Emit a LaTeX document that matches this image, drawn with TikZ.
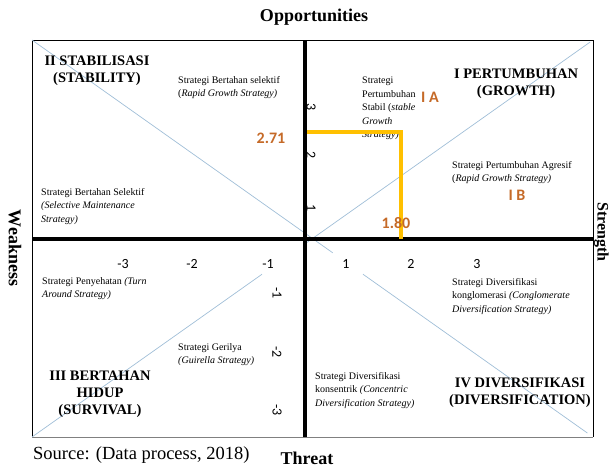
\documentclass[tikz,border=0pt]{standalone}
\usepackage{fontspec}
\setmainfont{Liberation Serif}
\newfontfamily\calibri{Carlito}
\usepackage{tikz}
\usetikzlibrary{calc}
\definecolor{diagblue}{RGB}{160,190,215}
\definecolor{valorange}{RGB}{197,106,40}
\definecolor{markyellow}{RGB}{255,192,0}
\tikzset{
  axis/.style={line width=3.5pt},
  diag/.style={diagblue, line width=0.7pt},
  quadtitle/.style={font=\fontsize{14.5}{17}\selectfont\bfseries, align=center, inner sep=0pt},
  strat/.style={font=\fontsize{10}{13.5}\selectfont, align=left, anchor=north west, inner sep=0pt},
  tick/.style={font=\calibri\fontsize{14}{16}\selectfont, inner sep=0pt},
  vtick/.style={tick, rotate=-90},
  val/.style={font=\calibri\bfseries\fontsize{16}{18}\selectfont, text=valorange, inner sep=0pt},
  sidelabel/.style={font=\fontsize{18}{20}\selectfont\bfseries, inner sep=0pt},
}

\begin{document}
\begin{tikzpicture}[x=1pt, y=-1pt]
    \useasboundingbox (0,0) rectangle (609,469);
    \coordinate (tl) at (32,40);
    \coordinate (tr) at (593,40);
    \coordinate (bl) at (32,437);
    \coordinate (br) at (593,437);
    \coordinate (o) at (305,239);

    \draw [line width=0.8pt] (bl) -- (tl) -- (tr) -- (br);
    \draw [gray, line width=1pt] (bl) -- (br);

    \draw [diag] (tl) -- ($(tl)!0.536!(br)$);
    \draw [diag] ($(tl)!0.59!(br)$) -- ($(tl)!0.99!(br)$);
    \draw [diag] (bl) -- ($(bl)!0.41!(tr)$);
    \draw [diag] ($(bl)!0.487!(tr)$) -- ($(bl)!0.995!(tr)$);

    \draw [axis] (tl |- o) -- (tr |- o);
    \draw [axis] (o |- tl) -- (o |- bl);

    \node [sidelabel] (opp) at (314,17) {Opportunities};
    \node [sidelabel] (thr) at (307,458) {Threat};
    \node [sidelabel, rotate=-90] (weak) at (15,248) {Weakness};
    \node [sidelabel, rotate=-90, font=\fontsize{16}{18}\selectfont\bfseries] (str) at (601.5,232) {Strength};
    \node [font=\fontsize{18.5}{20}\selectfont, anchor=west, inner sep=0pt] (src) at (33,455)
      {Source: (Data process, 2018)};

    \node [quadtitle] (q2) at (97,71) {II STABILISASI\\(STABILITY)};
    \node [quadtitle] (q1) at (516,84) {I PERTUMBUHAN\\(GROWTH)};
    \node [quadtitle] (q3) at (100,394) {III BERTAHAN\\HIDUP\\(SURVIVAL)};
    \node [quadtitle] (q4) at (520,393) {IV DIVERSIFIKASI\\(DIVERSIFICATION)};

    \node [strat] (s1) at (178,76) {Strategi Bertahan selektif\\(\textit{Rapid Growth Strategy)}};
    \node [strat] (s2) at (41,188) {Strategi Bertahan Selektif\\\textit{(Selective Maintenance}\\\textit{Strategy)}};
    \node [strat] (s3) at (362,77) {Strategi\\Pertumbuhan\\Stabil (\textit{stable}\\\textit{Growth}\\\textit{Strategy)}};
    \node [strat] (s4) at (452,161) {Strategi Pertumbuhan Agresif\\(\textit{Rapid Growth Strategy)}};
    \node [strat] (s5) at (42,277) {Strategi Penyehatan \textit{(Turn}\\\textit{Around Strategy)}};
    \node [strat] (s6) at (178,343) {Strategi Gerilya\\\textit{(Guirella Strategy)}};
    \node [strat] (s7) at (452,278) {Strategi Diversifikasi\\konglomerasi \textit{(Conglomerate}\\\textit{Diversification Strategy)}};
    \node [strat] (s8) at (315,372) {Strategi Diversifikasi\\konsentrik \textit{(Concentric}\\\textit{Diversification Strategy)}};

    \node [tick] (xm3) at (123,264) {-3};
    \node [tick] (xm2) at (192,264) {-2};
    \node [tick] (xm1) at (268,264) {-1};
    \node [tick] (xp1) at (346,264) {1};
    \node [tick] (xp2) at (411,264) {2};
    \node [tick] (xp3) at (477,264) {3};
    \node [vtick] (yp3) at (311,107) {3};
    \node [vtick] (yp2) at (311,155) {2};
    \node [vtick] (yp1) at (311,208) {1};
    \node [vtick] (ym1) at (277,293) {-1};
    \node [vtick] (ym2) at (277,352) {-2};
    \node [vtick] (ym3) at (277,410) {-3};

    \coordinate (ycut) at (307,132);
    \coordinate (corner) at (401,132);
    \draw [markyellow, line width=3.5pt] (ycut) -- (corner) -- (corner |- o);

    \node [val] (v271) at (271,138) {2.71};
    \node [val] (v180) at (396,223) {1.80};
    \node [val] (ia) at (430,97) {I A};
    \node [val] (ib) at (517,195) {I B};
\end{tikzpicture}
\end{document}
